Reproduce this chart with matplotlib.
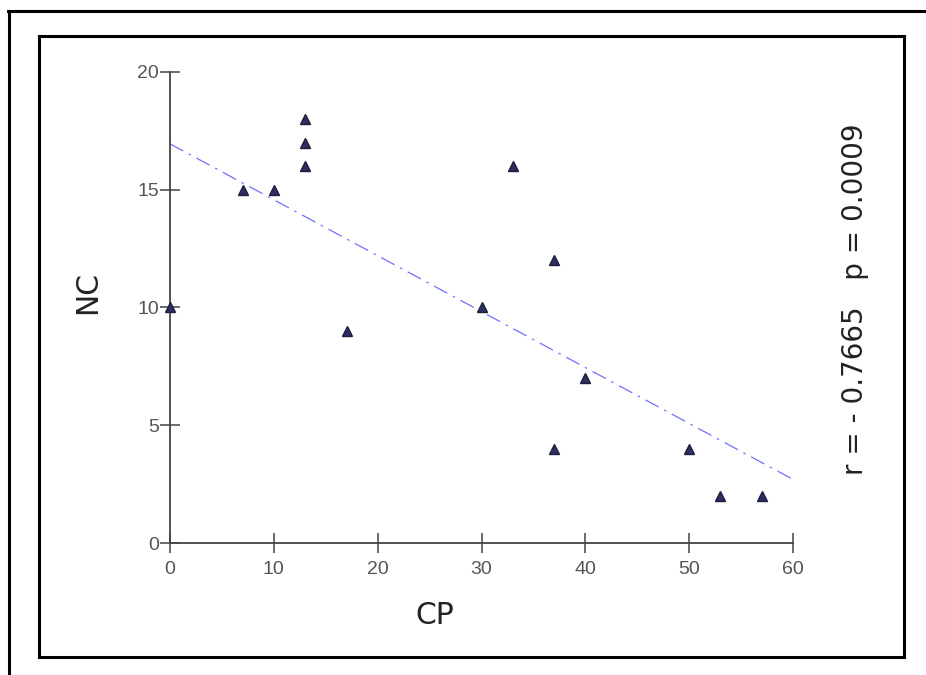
import matplotlib
matplotlib.use("Agg")
import matplotlib.pyplot as plt
from matplotlib.lines import Line2D
from matplotlib.patches import Rectangle

plt.rcParams['font.family'] = ['Liberation Sans', 'DejaVu Sans']

# data
cp = [0, 7, 10, 13, 13, 13, 17, 30, 33, 37, 37, 40, 50, 53, 57]
nc = [10, 15, 15, 18, 17, 16, 9, 10, 16, 12, 4, 7, 4, 2, 2]

# regression line end points
fit_x = [0, 60]
fit_y = [16.95, 2.7]

x_ticks = [0, 10, 20, 30, 40, 50, 60]
y_ticks = [0, 5, 10, 15, 20]

W, H = 926, 675
fig = plt.figure(figsize=(W / 100, H / 100), dpi=100)
fig.patch.set_facecolor('white')

# frames around the chart
fig.add_artist(Line2D([8 / W, 1], [1 - 11 / H, 1 - 11 / H], color='black', lw=2.2))
fig.add_artist(Line2D([9 / W, 9 / W], [0, 1 - 11 / H], color='black', lw=2.2))
fig.add_artist(Rectangle((39 / W, 1 - 657 / H), (904 - 39) / W, (657 - 36) / H,
                         fill=False, edgecolor='black', lw=2.2))

ax = fig.add_axes([170 / W, 1 - 543 / H, 623 / W, 471 / H])
ax.set_xlim(0, 60)
ax.set_ylim(0, 20)

ax.plot(fit_x, fit_y, color='#7070ff', lw=0.9, dashes=(12, 5, 2, 5))
ax.plot(cp, nc, linestyle='none', marker='^', ms=7.5, color='#2e2e60',
        markeredgecolor='#1e1e40', clip_on=False, zorder=3)

for s in ['top', 'right']:
    ax.spines[s].set_visible(False)
for s in ['left', 'bottom']:
    ax.spines[s].set_color('#444444')
    ax.spines[s].set_linewidth(1.3)

ax.set_xticks(x_ticks)
ax.set_yticks(y_ticks)
ax.tick_params(direction='inout', length=15, width=1.1, color='#444444',
               labelcolor='#555555', labelsize=14)
ax.tick_params(axis='y', pad=0.5)
ax.tick_params(axis='x', pad=5.5)
for lab in ax.get_xticklabels() + ax.get_yticklabels():
    lab.set_family(['Liberation Sans Narrow', 'Liberation Sans'])

fig.text(88 / W, 1 - 293 / H, 'NC', rotation=90, ha='center', va='center',
         fontsize=21.5, color='#222222', family='DejaVu Sans')
fig.text(435 / W, 1 - 615 / H, 'CP', ha='center', va='center',
         fontsize=21.5, color='#222222', family='DejaVu Sans')
fig.text(855 / W, 1 - 299 / H, 'r = - 0.7665   p = 0.0009', rotation=90,
         ha='center', va='center', fontsize=20, color='#222222',
         family='DejaVu Sans')

fig.savefig('out.png', dpi=100, facecolor='white')
